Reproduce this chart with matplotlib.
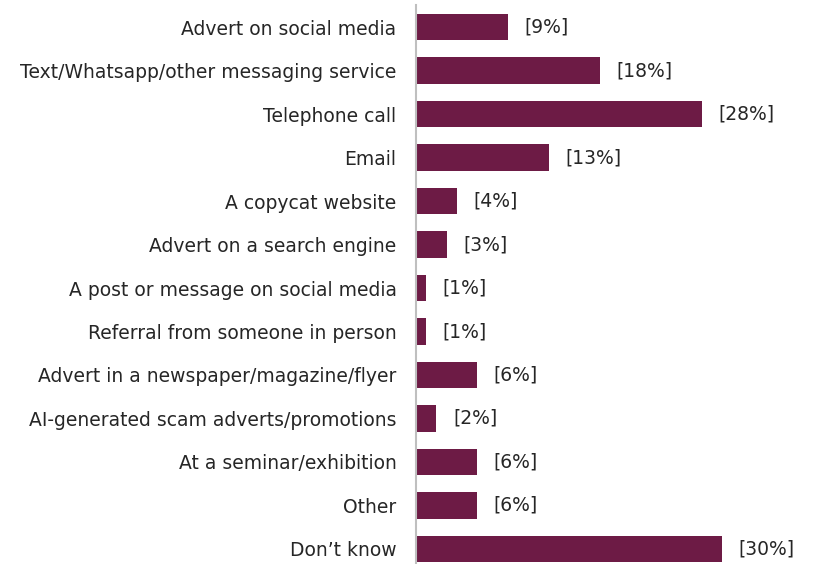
import matplotlib.pyplot as plt
import numpy as np

categories = [
    "Advert on social media",
    "Text/Whatsapp/other messaging service",
    "Telephone call",
    "Email",
    "A copycat website",
    "Advert on a search engine",
    "A post or message on social media",
    "Referral from someone in person",
    "Advert in a newspaper/magazine/flyer",
    "AI-generated scam adverts/promotions",
    "At a seminar/exhibition",
    "Other",
    "Don\u2019t know",
]
values = [9, 18, 28, 13, 4, 3, 1, 1, 6, 2, 6, 6, 30]

plt.rcParams["font.family"] = ["DejaVu Sans"]

bar_color = "#6d1b45"
text_color = "#262626"
fsize = 13.5

fig = plt.figure(figsize=(8.17, 5.64), dpi=100)
ax = fig.add_axes([416 / 817, 0, 401 / 817, 559 / 564])

y = np.arange(len(categories))
ax.barh(y, values, height=0.6, color=bar_color)

for yi, v in zip(y, values):
    ax.annotate(f"[{v}%]", (v, yi), xytext=(12, 0), textcoords="offset points",
                va="center", ha="left", fontsize=fsize, color=text_color)

ax.set_xlim(0, 401 / 10.2)
ax.set_ylim(12.345, -0.506)
ax.set_yticks(y)
ax.set_yticklabels(categories, fontsize=fsize, color=text_color)
ax.tick_params(axis="y", length=0, pad=14)
ax.set_xticks([])

for side in ["top", "right", "bottom"]:
    ax.spines[side].set_visible(False)
ax.spines["left"].set_color("#bfbfbf")
ax.spines["left"].set_linewidth(1.5)

fig.savefig("out.png", dpi=100)
